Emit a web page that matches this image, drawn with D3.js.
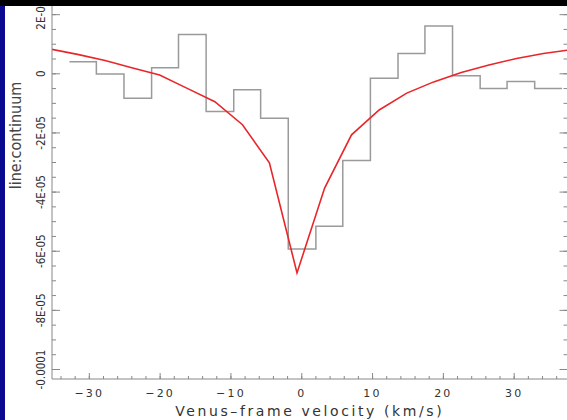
<!DOCTYPE html>
<html>
<head>
<meta charset="utf-8">
<style>
  body { margin: 0; background: #fff; }
  svg { display: block; }
  .tick text { fill: #333; }
  .axis path, .axis line { stroke: #888; }
</style>
</head>
<body>
<svg width="567" height="420"></svg>
<script src="https://d3js.org/d3.v7.min.js"></script>
<script>
// observed spectrum, binned (bin centres in km/s, line:continuum)
var binCentres = [-30.8, -27.0, -23.1, -19.2, -15.4, -11.5, -7.6, -3.8, 0.1, 4.0,
                  7.8, 11.7, 15.6, 19.4, 23.3, 27.2, 31.0, 34.9];
var binValues = [3.9e-6, -0.2e-6, -8.4e-6, 1.9e-6, 1.31e-5, -1.29e-5, -5.6e-6, -1.52e-5, -5.94e-5, -5.17e-5,
                 -2.95e-5, -1.7e-6, 6.7e-6, 1.6e-5, -0.8e-6, -5.1e-6, -2.8e-6, -5.1e-6];
var binWidth = 3.87;

// model fit (red)
var modelVel = [-35.4, -31.6, -27.7, -23.8, -20.0, -16.1, -12.2, -8.3, -4.5, -0.6,
                3.3, 7.1, 11.0, 14.9, 18.7, 22.6, 26.5, 30.4, 34.2, 38.1];
var modelValues = [8.2e-6, 6.4e-6, 4.3e-6, 1.8e-6, -0.6e-6, -5.1e-6, -9.6e-6, -1.74e-5, -3.03e-5, -6.75e-5,
                   -3.88e-5, -2.08e-5, -1.24e-5, -6.7e-6, -2.9e-6, 0.3e-6, 2.8e-6, 5.0e-6, 6.7e-6, 8.0e-6];

var xTicks = [-30, -20, -10, 0, 10, 20, 30];
var xTickLabels = ["\u221230", "\u221220", "\u221210", "0", "10", "20", "30"];
var yTicks = [2e-5, 0, -2e-5, -4e-5, -6e-5, -8e-5, -1e-4];
var yTickLabels = ["2E-05", "0", "-2E-05", "-4E-05", "-6E-05", "-8E-05", "-0.0001"];

var svg = d3.select("svg");
var left = 52, right = 567.5, bottom = 379;

var x = d3.scaleLinear().domain([-35.2, 37.6]).range([left, right]);
var y = d3.scaleLinear().domain([-1e-4, 0]).range([369, 73.3]);

svg.append("clipPath").attr("id", "clip")
  .append("rect").attr("x", left).attr("y", 0).attr("width", right - left).attr("height", bottom);

var plot = svg.append("g").attr("clip-path", "url(#clip)");

// histogram as steps
var stepPts = binCentres.map(function(c, i){ return [c - binWidth / 2, binValues[i]]; });
stepPts.push([binCentres[binCentres.length - 1] + binWidth / 2, binValues[binValues.length - 1]]);

plot.append("path")
  .datum(stepPts)
  .attr("fill", "none")
  .attr("stroke", "#9a9a9a")
  .attr("stroke-width", 1.5)
  .attr("d", d3.line().x(function(d){ return x(d[0]); }).y(function(d){ return y(d[1]); }).curve(d3.curveStepAfter));

plot.append("path")
  .datum(modelVel.map(function(v, i){ return [v, modelValues[i]]; }))
  .attr("fill", "none")
  .attr("stroke", "#e8262a")
  .attr("stroke-width", 1.6)
  .attr("d", d3.line().x(function(d){ return x(d[0]); }).y(function(d){ return y(d[1]); }));

// minor ticks
var xMinor = d3.range(-34, 37, 2);
var yMinor = d3.range(-100, 26, 5).map(function(d){ return d * 1e-6; });

svg.append("g").attr("class", "axis").attr("transform", "translate(0," + bottom + ")")
  .call(d3.axisBottom(x).tickValues(xMinor).tickSize(-3).tickFormat(""))
  .select(".domain").remove();
svg.append("g").attr("class", "axis").attr("transform", "translate(" + left + ",0)")
  .call(d3.axisLeft(y).tickValues(yMinor).tickSize(-4).tickFormat(""))
  .select(".domain").remove();
svg.append("g").attr("class", "axis").attr("transform", "translate(" + right + ",0)")
  .call(d3.axisRight(y).tickValues(yMinor).tickSize(-4).tickFormat(""))
  .select(".domain").remove();

// major axes
var xAxis = svg.append("g").attr("class", "axis").attr("transform", "translate(0," + bottom + ")")
  .call(d3.axisBottom(x).tickValues(xTicks).tickSize(-6).tickSizeOuter(0).tickPadding(10)
    .tickFormat(function(d, i){ return xTickLabels[i]; }));
xAxis.select(".domain").attr("d", "M" + left + ",0H" + right);
xAxis.selectAll("text")
  .style("font-family", "DejaVu Sans").style("font-size", "11px").style("letter-spacing", "2.2px");

var yAxis = svg.append("g").attr("class", "axis").attr("transform", "translate(" + left + ",0)")
  .call(d3.axisLeft(y).tickValues(yTicks).tickSize(-8).tickSizeOuter(0).tickPadding(7)
    .tickFormat(function(d, i){ return yTickLabels[i]; }));
yAxis.select(".domain").attr("d", "M0,0V" + bottom);
yAxis.selectAll("text")
  .attr("x", null).attr("dy", null)
  .attr("text-anchor", "middle")
  .attr("transform", "translate(-7,0) rotate(-90)")
  .style("font-family", "'Liberation Sans Narrow', 'DejaVu Sans Condensed', sans-serif")
  .style("font-size", "11.5px");

svg.append("g").attr("class", "axis").attr("transform", "translate(" + right + ",0)")
  .call(d3.axisRight(y).tickValues(yTicks).tickSize(-8).tickFormat(""))
  .select(".domain").remove();

// axis titles
svg.append("text")
  .attr("x", (left + right) / 2).attr("y", 416)
  .attr("text-anchor", "middle")
  .style("font-family", "DejaVu Sans").style("font-size", "14px").style("letter-spacing", "2.6px")
  .attr("fill", "#333")
  .text("Venus\u2013frame velocity (km/s)");

svg.append("text")
  .attr("transform", "translate(20.5,135.5) rotate(-90)")
  .attr("text-anchor", "middle")
  .style("font-family", "'Liberation Sans Narrow', 'DejaVu Sans Condensed', sans-serif")
  .style("font-size", "16px")
  .attr("fill", "#444")
  .text("line:continuum");

// slide frame
svg.append("rect").attr("x", 0).attr("y", 0).attr("width", 5).attr("height", 420).attr("fill", "#0a0a90");
svg.append("rect").attr("x", 0).attr("y", 0).attr("width", 567).attr("height", 6).attr("fill", "#000");
</script>
</body>
</html>
